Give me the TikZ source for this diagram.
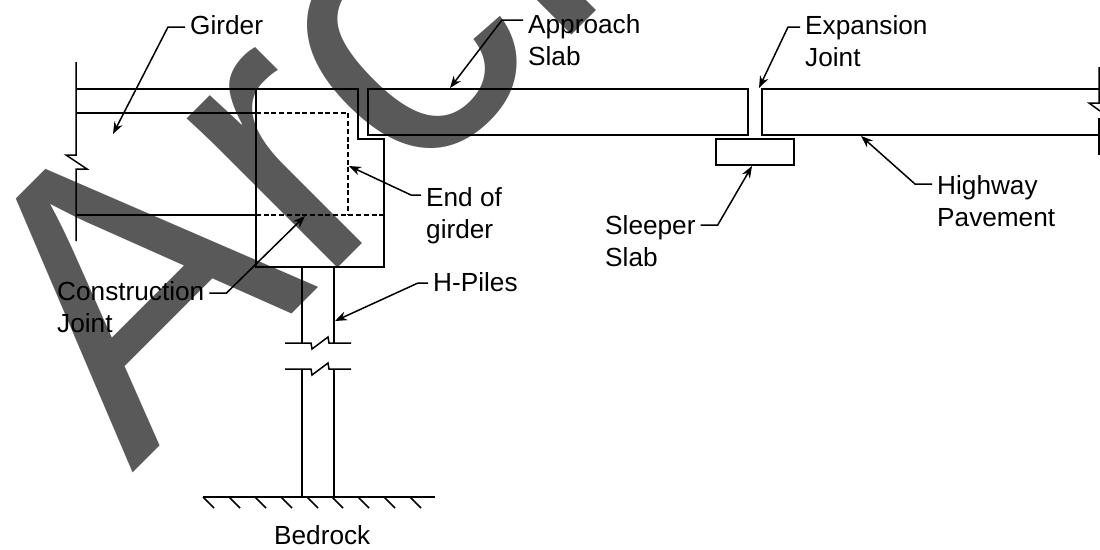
\documentclass[tikz,border=0pt]{standalone}
\usepackage{fontspec}
\setmainfont{Liberation Sans}
\usetikzlibrary{arrows.meta}
\tikzset{
    line/.style={line width=1.5pt, line join=miter},
    hidden/.style={line width=1.5pt, dash pattern=on 5pt off 2.7pt},
    leader/.style={line width=1.5pt, -{Stealth[length=12pt,width=9pt]}},
    label/.style={anchor=north west, align=left, inner xsep=5pt, inner ysep=0pt,
        font=\fontsize{26.2}{32}\selectfont},
    marktext/.style={anchor=base west, inner sep=0pt, rotate=45, xscale=1.015, yscale=1.03, text=black!65,
        font=\fontsize{390}{390}\selectfont}
}

\begin{document}
\begin{tikzpicture}[x=1pt, y=-1pt]
                \useasboundingbox (0,0) rectangle (1100,549);
                \clip (0,0) rectangle (1100,549);
                % watermark
                \node[marktext] (Mark) at (132,474) {Arch};
                % girder and abutment
                \draw[line] (76,62) -- (76,155) -- (66,155) -- (87,169) -- (76,169) -- (76,241);
                \draw[line] (76,89) -- (358,89) -- (358,139) -- (384,139) -- (384,267) -- (256,267) -- (256,89);
                \draw[line] (76,113) -- (256,113);
                \draw[line] (76,215) -- (256,215);
                \draw[hidden] (256,113) -- (348,113) -- (348,215);
                \draw[hidden] (256,215) -- (384,215);
                % slabs
                \draw[line] (368,89) rectangle (748,135);
                \draw[line] (1099,89) -- (762,89) -- (762,135) -- (1099,135);
                \draw[line] (1099,67) -- (1099,103) -- (1089,103) -- (1100,111);
                \draw[line] (1099,118) -- (1099,155);
                \draw[line] (716,139) rectangle (794,165);
                % piles
                \draw[line] (302,267) -- (302,343);
                \draw[line] (334,267) -- (334,343);
                \draw[line] (285,343) -- (311,343) -- (312,349) -- (328,337) -- (329,343) -- (351,343);
                \draw[line] (285,369) -- (311,369) -- (312,375) -- (328,363) -- (329,369) -- (351,369);
                \draw[line] (302,369) -- (302,497);
                \draw[line] (334,369) -- (334,497);
                % bedrock
                \draw[line] (203,497) -- (435,497);
                \foreach \x in {203,229,255,281,307,332,358,384,410} {
                    \draw[line] (\x,497) -- ++(11,11);
                }
                \node[label] (Bedrock) at (269,525) {Bedrock};
                % labels
                \node[label] (Girder) at (185,15) {Girder};
                \node[label] (Approach) at (523,14) {Approach\\Slab};
                \node[label] (Expansion) at (800,15) {Expansion\\Joint};
                \node[label] (EndGirder) at (421,187) {End of\\girder};
                \node[label] (Highway) at (932,175) {Highway\\Pavement};
                \node[label] (Sleeper) at (600,215) {Sleeper\\Slab};
                \node[label] (Construction) at (52,281) {Construction\\Joint};
                \node[label] (HPiles) at (428,272) {H-Piles};
                % arrow ends
                \coordinate (GirderEnd) at (113,134);
                \coordinate (ApproachEnd) at (450,88);
                \coordinate (ExpansionEnd) at (759,88);
                \coordinate (EndGirderEnd) at (349,166);
                \coordinate (HighwayEnd) at (861,136);
                \coordinate (SleeperEnd) at (752,166);
                \coordinate (ConstructionEnd) at (305,216);
                \coordinate (HPilesEnd) at (335,321);
                \draw[leader] ([yshift=-12pt]Girder.north west) -- ++(-17,0) -- (GirderEnd);
                \draw[leader] ([yshift=-6pt]Approach.north west) -- ++(-21,0) -- (ApproachEnd);
                \draw[leader] ([yshift=-12pt]Expansion.north west) -- ++(-12,0) -- (ExpansionEnd);
                \draw[leader] ([yshift=-8pt]EndGirder.north west) -- ++(-10,0) -- (EndGirderEnd);
                \draw[leader] ([yshift=-9pt]Highway.north west) -- ++(-17,0) -- (HighwayEnd);
                \draw[leader] (Sleeper.north east |- 0,225) -- ++(17,0) -- (SleeperEnd);
                \draw[leader] (Construction.north east |- 0,293) -- ++(17,0) -- (ConstructionEnd);
                \draw[leader] ([yshift=-11pt]HPiles.north west) -- ++(-10,0) -- (HPilesEnd);
            \end{tikzpicture}
\end{document}
